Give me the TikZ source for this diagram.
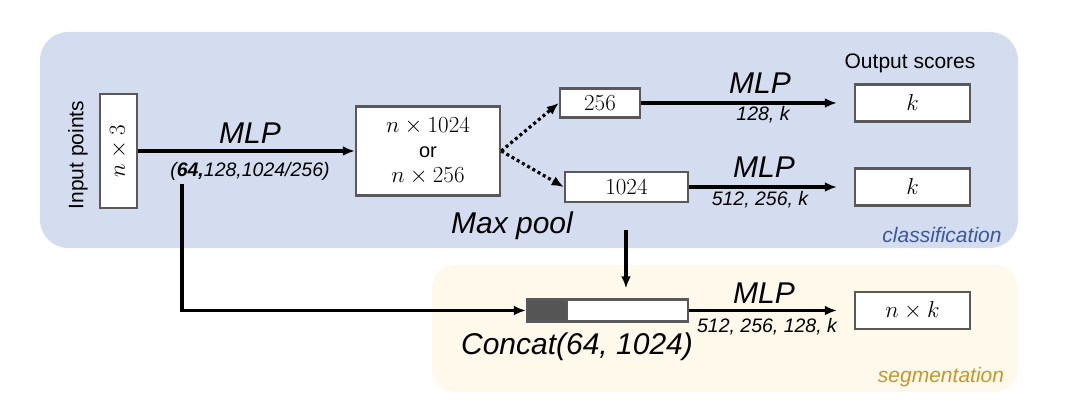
\RequirePackage{fix-cm}
\documentclass[tikz,border=0pt]{standalone}
\usepackage{fontspec}
\setmainfont{Liberation Sans}
\usetikzlibrary{arrows.meta,positioning}
\definecolor{clsbg}{RGB}{212,221,239}
\definecolor{segbg}{RGB}{255,249,235}
\definecolor{boxgray}{RGB}{89,89,89}
\definecolor{catdark}{RGB}{85,85,85}
\definecolor{clsblue}{RGB}{59,87,160}
\definecolor{seggold}{RGB}{197,151,44}
\tikzstyle{blk}=[rectangle,line width=2.5pt,draw=boxgray,fill=white,inner sep=0pt]
\tikzstyle{mth}=[font=\fontsize{23}{25}\selectfont]
\tikzstyle{mlp}=[font=\fontsize{30}{36}\selectfont\itshape,inner sep=0pt]
\tikzstyle{sub}=[font=\fontsize{19.5}{23}\selectfont\itshape,inner sep=0pt]
\tikzstyle{txt}=[font=\fontsize{21}{25}\selectfont,inner sep=0pt]
\tikzstyle{tag}=[font=\fontsize{21}{25}\selectfont\itshape,inner sep=0pt]
\tikzstyle{arr}=[->,line width=3.2pt]
\tikzstyle{dotarr}=[->,line width=3.2pt,dash pattern=on 3pt off 3pt]

\begin{document}
\begin{tikzpicture}[x=1pt,y=-1pt,>={Latex[length=12pt,width=10pt]}]
            \useasboundingbox (0,0) rectangle (1086,412);

            % Regions
            \fill[clsbg,rounded corners=28pt] (40,32) rectangle (1018,248);
            \fill[segbg,rounded corners=22pt] (432,265) rectangle (1018,392);

            % Shared features
            \node[blk,mth,rotate=90,minimum width=114pt,minimum height=37pt] (inp) at (118.5,151) {$n\times 3$};
            \node[txt,rotate=90] (inlbl) at (78,155) {Input points};
            \node[blk,mth,align=center,minimum width=144pt,minimum height=89pt] (pool) at (428,151) {$n\times 1024$\\{\fontsize{20}{25}\selectfont or}\\$n\times 256$};

            \path[arr] (inp) edge node {} (pool);
            \node[mlp] (mlp1) at (250,133) {MLP};
            \node[sub] (mlp1p) at (250,171) {(\textbf{64,}128,1024/256)};
            \node[mlp] (pooltxt) at (512,226) {Max pool};

            % Classification
            \node[blk,mth,minimum width=80pt,minimum height=29pt] (f256) at (600,103) {$256$};
            \node[blk,mth,minimum width=123pt,minimum height=30pt] (f1024) at (626.5,187) {$1024$};
            \node[blk,mth,minimum width=115pt,minimum height=37pt] (cls1) at (912.5,103) {$k$};
            \node[blk,mth,minimum width=115pt,minimum height=37pt] (cls2) at (912.5,187) {$k$};

            \path[dotarr] (pool.east) edge node {} (f256.west);
            \path[dotarr] (pool.east) edge node {} (f1024.west);
            \path[arr] (f256) edge[shorten >=17pt] node {} (cls1);
            \path[arr] (f1024) edge[shorten >=17pt] node {} (cls2);

            \node[mlp] (mlp2) at (760,83) {MLP};
            \node[sub] (mlp2p) at (763,115) {128, k};
            \node[mlp] (mlp3) at (764,167) {MLP};
            \node[sub] (mlp3p) at (760,200) {512, 256, k};
            \node[txt] (outlbl) at (910,63) {Output scores};
            \node[tag,text=clsblue] (clslbl) at (942,235) {classification};

            % Segmentation
            \node[blk,minimum width=161pt,minimum height=22pt] (cat) at (607.5,310.5) {};
            \node[blk,fill=catdark,anchor=west,minimum width=40pt,minimum height=22pt] (catl) at (cat.west) {};
            \node[blk,mth,minimum width=115pt,minimum height=37pt] (seg) at (912.5,310.5) {$n\times k$};
            \coordinate (tap) at (182,184);
            \coordinate (poolout) at (626,230);

            \draw[arr] (tap) |- (catl.west);
            \path[arr] (poolout) edge[shorten >=10pt] node {} (poolout |- cat.north);
            \path[arr] (cat) edge[shorten >=17pt] node {} (seg);

            \node[mlp] (mlp4) at (764,293) {MLP};
            \node[sub] (mlp4p) at (767,327) {512, 256, 128, k};
            \node[mlp] (cattxt) at (577,347) {Concat(64, 1024)};
            \node[tag,text=seggold] (seglbl) at (941,377) {segmentation};

\end{tikzpicture}
\end{document}
